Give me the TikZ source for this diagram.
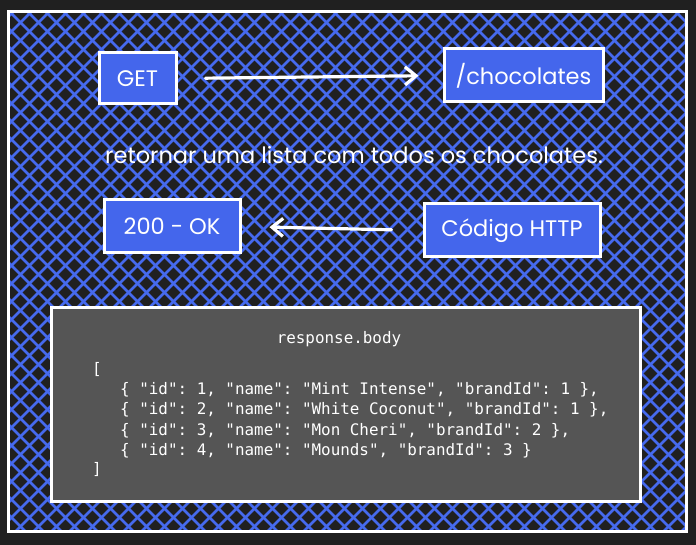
\documentclass[tikz,border=0pt]{standalone}
\usepackage{fontspec}
\setmainfont{Poppins}
\setmonofont{DejaVu Sans Mono}
\usetikzlibrary{arrows.meta}
\definecolor{bgdark}{RGB}{32,32,32}
\definecolor{hatchblue}{RGB}{70,106,238}
\definecolor{boxblue}{RGB}{68,102,236}
\definecolor{codegray}{RGB}{85,85,85}
\tikzset{
  hand/.style={font=\fontsize{22.5}{26}\selectfont, text=white},
  bluebox/.style={draw=white, line width=3pt, fill=boxblue, inner sep=0pt, hand},
  code/.style={font=\ttfamily\fontsize{15.9}{18}\selectfont, text=white, inner sep=0pt},
  flow/.style={draw=white, line width=3.2pt, line cap=round, -{Straight Barb[length=11pt,width=18pt]}},
}
\begin{document}
\begin{tikzpicture}[x=1pt,y=-1pt]
\useasboundingbox (0,0) rectangle (696,545);
\fill[bgdark] (0,0) rectangle (696,545);
% hatched frame
\begin{scope}
  \clip (8,12) rectangle (686,531);
  \foreach \i in {-560,-542,...,700} {
    \draw[hatchblue, line width=2.6pt] (\i,0) -- ++(560,560);
    \draw[hatchblue, line width=2.6pt] (\i+7,560) -- ++(560,-560);
  }
\end{scope}
\draw[white, line width=3pt] (8,12) rectangle (686,531);
% boxes
\node[bluebox, minimum width=77pt, minimum height=51pt] (get) at (137.5,78.5) {GET};
\node[bluebox, minimum width=159pt, minimum height=53pt] (choc) at (523.5,75.5) {/chocolates};
\node[hand] (desc) at (354,155) {retornar uma lista com todos os chocolates.};
\node[bluebox, minimum width=136pt, minimum height=53pt] (ok) at (172,226.5) {200 - OK};
\node[bluebox, minimum width=176pt, minimum height=53pt] (http) at (512,230.5) {Código HTTP};
\draw[flow, shorten <=28pt, shorten >=24pt] (get.east) -- (choc.west);
\draw[flow, shorten <=31pt, shorten >=28pt] (http.west) -- (ok.east);
% response box
\node[draw=white, line width=3pt, fill=codegray, minimum width=589pt, minimum height=193pt, inner sep=0pt] (resp) at (345.5,404.5) {};
\node[code] (title) at (339,339) {response.body};
\node[code, anchor=base west] (open) at (92,374) {[};
\node[code, anchor=base west] (l1) at (120,394) {\{ "id": 1, "name": "Mint Intense", "brandId": 1 \},};
\node[code, anchor=base west] (l2) at (120,414.5) {\{ "id": 2, "name": "White Coconut", "brandId": 1 \},};
\node[code, anchor=base west] (l3) at (120,435) {\{ "id": 3, "name": "Mon Cheri", "brandId": 2 \},};
\node[code, anchor=base west] (l4) at (120,455.5) {\{ "id": 4, "name": "Mounds", "brandId": 3 \}};
\node[code, anchor=base west] (close) at (92,474) {]};
\end{tikzpicture}
\end{document}
